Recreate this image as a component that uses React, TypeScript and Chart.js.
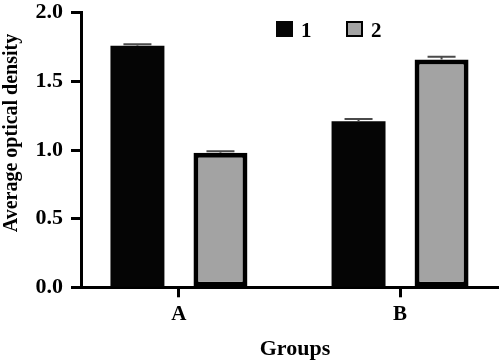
import React, { useEffect, useRef } from 'react';
import { Chart, registerables } from 'chart.js';

Chart.register(...registerables);

const categories = ['A', 'B'];
const seriesLabels = ['1', '2'];
const series1 = [1.76, 1.21];
const series2 = [0.98, 1.66];
const errors1 = [0.01, 0.015];
const errors2 = [0.01, 0.02];
const yTickValues = [0, 0.5, 1.0, 1.5, 2.0];
const xTitle = 'Groups';
const yTitle = 'Average optical density';

const FONT = '"Liberation Serif", "Times New Roman", serif';
const BLACK = '#000000';
const GREY = '#a3a3a3';

const errorBarPlugin = {
  id: 'errorBars',
  afterDatasetsDraw(chart: any) {
    const ctx = chart.ctx;
    const yScale = chart.scales.y;
    chart.data.datasets.forEach((ds: any, di: number) => {
      const meta = chart.getDatasetMeta(di);
      const errs = ds.errors || [];
      meta.data.forEach((el: any, i: number) => {
        const v = ds.data[i].y;
        const e = errs[i] || 0;
        const yTop = yScale.getPixelForValue(v + e);
        const yVal = yScale.getPixelForValue(v);
        ctx.save();
        ctx.strokeStyle = '#4a4a4a';
        ctx.lineWidth = 2;
        ctx.beginPath();
        ctx.moveTo(el.x, yVal);
        ctx.lineTo(el.x, yTop);
        ctx.moveTo(el.x - 14, yTop);
        ctx.lineTo(el.x + 14, yTop);
        ctx.stroke();
        ctx.restore();
      });
    });
  },
};

const annotationsPlugin = {
  id: 'customText',
  afterDraw(chart: any) {
    const ctx = chart.ctx;
    ctx.save();
    ctx.fillStyle = BLACK;
    ctx.font = `bold 20px ${FONT}`;
    ctx.translate(12, 133);
    ctx.rotate(-Math.PI / 2);
    ctx.textAlign = 'center';
    ctx.textBaseline = 'middle';
    ctx.fillText(yTitle, 0, 0);
    ctx.restore();

    ctx.save();
    ctx.fillStyle = BLACK;
    ctx.font = `bold 22px ${FONT}`;
    ctx.textAlign = 'center';
    ctx.textBaseline = 'alphabetic';
    ctx.fillText(xTitle, 295, 355);
    ctx.restore();

    const items = chart.data.datasets.map((ds: any) => ({
      label: ds.label,
      fill: ds.backgroundColor,
      border: ds.borderWidth > 0,
    }));
    const starts = [276, 346];
    ctx.save();
    items.forEach((it: any, i: number) => {
      const x = starts[i];
      ctx.fillStyle = it.fill;
      ctx.fillRect(x, 21, 17, 16);
      if (it.border) {
        ctx.strokeStyle = BLACK;
        ctx.lineWidth = 2;
        ctx.strokeRect(x + 1, 22, 15, 14);
      }
      ctx.fillStyle = BLACK;
      ctx.font = `bold 21px ${FONT}`;
      ctx.textAlign = 'left';
      ctx.textBaseline = 'alphabetic';
      ctx.fillText(it.label, x + 25, 37);
    });
    ctx.restore();
  },
};

export default function App() {
  const canvasRef = useRef<HTMLCanvasElement | null>(null);

  useEffect(() => {
    document.body.style.margin = '0';
    const canvas = canvasRef.current;
    if (!canvas) return;
    const chart = new Chart(canvas, {
      type: 'bar',
      data: {
        datasets: [
          {
            label: seriesLabels[0],
            data: series1.map((v, i) => ({ x: i, y: v })),
            backgroundColor: '#050505',
            borderColor: BLACK,
            borderWidth: 0,
            errors: errors1,
          } as any,
          {
            label: seriesLabels[1],
            data: series2.map((v, i) => ({ x: i, y: v })),
            backgroundColor: GREY,
            borderColor: BLACK,
            borderWidth: 5,
            borderSkipped: false,
            errors: errors2,
          } as any,
        ],
      },
      options: {
        responsive: false,
        animation: false,
        devicePixelRatio: 1,
        categoryPercentage: 0.751,
        barPercentage: 0.65,
        layout: { padding: { top: 12.7, right: 2, left: 0, bottom: 0 } },
        plugins: {
          legend: { display: false },
          tooltip: { enabled: false },
          title: { display: false },
        },
        scales: {
          x: {
            type: 'linear',
            min: -0.443,
            max: 1.443,
            offset: false,
            afterBuildTicks: (s: any) => {
              s.ticks = categories.map((_, i) => ({ value: i }));
            },
            afterFit: (s: any) => {
              s.height = 73.7;
              s.paddingLeft = 0;
              s.paddingRight = 0;
            },
            ticks: {
              callback: (v: any) => categories[v] ?? '',
              font: { family: FONT, size: 21, weight: 'bold' },
              color: BLACK,
              padding: 5,
              maxRotation: 0,
              autoSkip: false,
            },
            grid: {
              display: true,
              offset: false,
              drawOnChartArea: false,
              drawTicks: true,
              tickLength: 10,
              tickWidth: 3,
              tickColor: BLACK,
            },
            border: { display: true, color: BLACK, width: 3 },
          } as any,
          y: {
            type: 'linear',
            min: 0,
            max: 2,
            afterBuildTicks: (s: any) => {
              s.ticks = yTickValues.map((v) => ({ value: v }));
            },
            afterFit: (s: any) => {
              s.width = 81;
              s.paddingTop = 0;
              s.paddingBottom = 0;
            },
            ticks: {
              callback: (v: any) => Number(v).toFixed(1),
              font: { family: FONT, size: 22, weight: 'bold' },
              color: BLACK,
              padding: 8,
            },
            grid: {
              display: true,
              drawOnChartArea: false,
              drawTicks: true,
              tickLength: 10,
              tickWidth: 3,
              tickColor: BLACK,
            },
            border: { display: true, color: BLACK, width: 3 },
          } as any,
        },
      },
      plugins: [errorBarPlugin, annotationsPlugin],
    });
    return () => chart.destroy();
  }, []);

  return (
    <div style={{ width: 500, height: 361, background: '#ffffff' }}>
      <canvas ref={canvasRef} width={500} height={361} style={{ display: 'block' }} />
    </div>
  );
}
